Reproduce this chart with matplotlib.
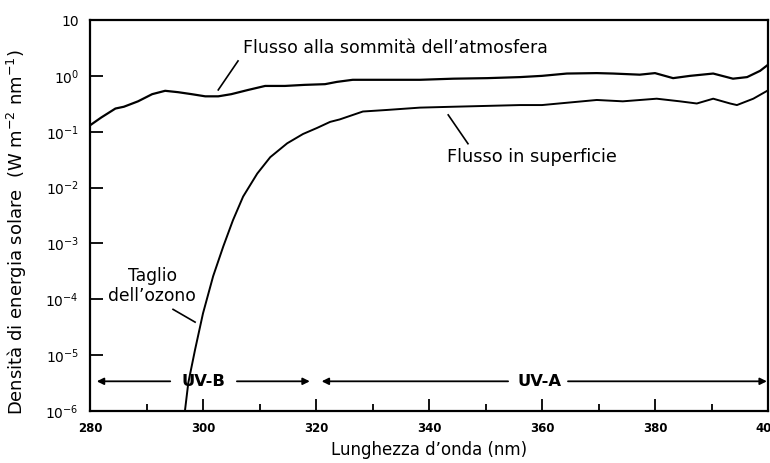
import matplotlib
matplotlib.use("Agg")
import matplotlib.pyplot as plt

# Top-of-atmosphere flux (W m^-2 nm^-1)
toa_nm = [280, 282, 284.5, 286, 288.5, 291, 293.3, 295.6, 298, 300.4, 302.7, 305, 308,
          311, 314.5, 318, 321.6, 323.7, 326.5, 332.5, 338.4, 344.3, 350.3, 356.1, 360,
          364.4, 369.7, 372.6, 377.3, 380, 383.2, 386.2, 390.3, 393.8, 396.3, 398.6, 400]
toa_val = [0.13, 0.18, 0.26, 0.28, 0.35, 0.47, 0.54, 0.51, 0.47, 0.43, 0.43, 0.47, 0.56,
           0.66, 0.66, 0.69, 0.71, 0.78, 0.85, 0.85, 0.85, 0.89, 0.91, 0.95, 1.0,
           1.10, 1.12, 1.10, 1.05, 1.12, 0.91, 1.0, 1.10, 0.89, 0.95, 1.23, 1.58]

# Surface flux
sfc_nm = [296.8, 297.4, 298.6, 300, 301.8, 303.6, 305.3, 307.1, 309.6, 311.9, 314.9,
          317.7, 320.2, 322.5, 324.2, 328.3, 332.5, 338.4, 344.3, 350.3, 356.1, 360,
          364.4, 369.7, 374.3, 380.3, 384.4, 387.4, 390.3, 393.3, 394.5, 397.4, 400]
sfc_val = [1.0e-6, 3.2e-6, 1.26e-5, 5.6e-5, 2.6e-4, 8.9e-4, 2.6e-3, 6.9e-3, 1.78e-2,
           3.5e-2, 6.2e-2, 9.1e-2, 0.117, 0.150, 0.166, 0.23, 0.245, 0.27, 0.28, 0.29,
           0.30, 0.30, 0.33, 0.37, 0.35, 0.39, 0.35, 0.32, 0.39, 0.32, 0.30, 0.39, 0.55]

xticks = [280, 300, 320, 340, 360, 380, 400]
xminor = [290, 310, 330, 350, 370, 390]
yticks = [1e-6, 1e-5, 1e-4, 1e-3, 1e-2, 1e-1, 1e0, 1e1]
ytick_labels = ["$10^{-6}$", "$10^{-5}$", "$10^{-4}$", "$10^{-3}$", "$10^{-2}$",
                "$10^{-1}$", "$10^{0}$", "10"]

fig = plt.figure(figsize=(7.7, 4.63), dpi=100)
ax = fig.add_axes([90/770, 1-411/463, (768-90)/770, (411-20)/463])

ax.plot(toa_nm, toa_val, color="black", lw=1.6)
ax.plot(sfc_nm, sfc_val, color="black", lw=1.4)

ax.set_yscale("log")
ax.set_xlim(280, 400)
ax.set_ylim(1e-6, 1e1)
ax.set_xticks(xticks)
ax.set_xticks(xminor, minor=True)
ax.set_xticklabels([str(t) for t in xticks], fontsize=8.5, fontweight="bold")
ax.set_yticks(yticks)
ax.set_yticklabels(ytick_labels, fontsize=10)
ax.yaxis.set_minor_locator(matplotlib.ticker.NullLocator())
ax.tick_params(axis="both", which="major", direction="in", length=9, width=1.3)
ax.tick_params(axis="x", which="minor", direction="in", length=5, width=1.3)
ax.tick_params(axis="x", which="major", pad=8)
ax.tick_params(axis="y", which="major", pad=8)
for s in ax.spines.values():
    s.set_linewidth(1.6)

ax.set_xlabel("Lunghezza d\u2019onda (nm)", fontsize=12, labelpad=4)
ax.set_ylabel("Densit\u00e0 di energia solare  (W m$^{-2}$ nm$^{-1}$)", fontsize=13)
ax.yaxis.set_label_coords(-0.090, 0.458)

# annotations
ax.text(307.1, 3.1, "Flusso alla sommit\u00e0 dell\u2019atmosfera", fontsize=12.5,
        ha="left", va="center")
ax.plot([306.2, 302.7], [1.85, 0.56], color="black", lw=1.2)
ax.text(343.2, 0.035, "Flusso in superficie", fontsize=12.8, ha="left", va="center")
ax.plot([343.4, 346.9], [0.2, 0.061], color="black", lw=1.2)
ax.text(291.0, 1.7e-4, "Taglio\ndell\u2019ozono", fontsize=12.3, ha="center", va="center",
        multialignment="center", linespacing=1.15)
ax.plot([294.7, 298.6], [6.6e-5, 3.9e-5], color="black", lw=1.2)

# UV bands
yb = 3.4e-6
arrow = dict(arrowstyle="-|>", color="black", lw=1.3, mutation_scale=10, shrinkA=0, shrinkB=0)
ax.annotate("", xy=(281.2, yb), xytext=(294.2, yb), arrowprops=arrow)
ax.annotate("", xy=(318.9, yb), xytext=(306.0, yb), arrowprops=arrow)
ax.text(300.1, yb, "UV-B", fontsize=11.8, fontweight="bold", ha="center", va="center")
ax.annotate("", xy=(321.0, yb), xytext=(354.0, yb), arrowprops=arrow)
ax.annotate("", xy=(399.8, yb), xytext=(364.6, yb), arrowprops=arrow)
ax.text(359.6, yb, "UV-A", fontsize=11.8, fontweight="bold", ha="center", va="center")

fig.savefig("out.png", dpi=100)
